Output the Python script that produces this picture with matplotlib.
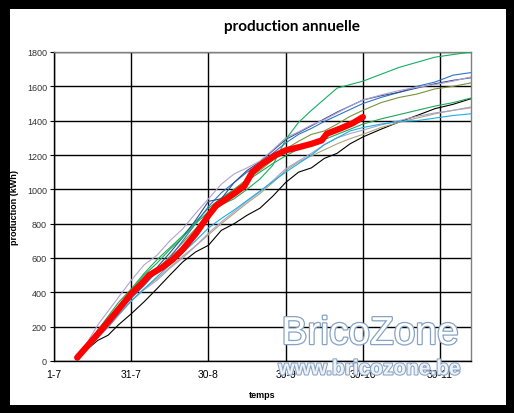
import matplotlib
matplotlib.use("Agg")
import matplotlib.pyplot as plt
import matplotlib.patheffects as pe
from matplotlib.patches import Rectangle

# ---------------- data ----------------
x_tick_pos = [0, 30, 60, 90, 120, 150]
x_tick_labels = ["1-7", "31-7", "30-8", "30-9", "30-10", "30-11"]
y_ticks = [0, 200, 400, 600, 800, 1000, 1200, 1400, 1600, 1800]

days = [9, 13, 17, 21, 25, 30, 35, 40, 45, 50, 55, 60, 65, 70, 75, 80, 85, 90,
        95, 100, 105, 110, 115, 120, 127, 134, 141, 148, 155, 162]

lavender = [0, 110, 210, 290, 370, 470, 560, 616, 700, 770, 860, 945, 1030, 1090,
            1125, 1165, 1230, 1300, 1335, 1375, 1405, 1445, 1485, 1520, 1550, 1575,
            1595, 1610, 1630, 1655]
dark_blue = [0, 85, 160, 230, 305, 390, 470, 545, 630, 720, 820, 930, 945, 1040,
             1110, 1160, 1225, 1290, 1330, 1370, 1410, 1450, 1485, 1520, 1545, 1565,
             1590, 1615, 1635, 1650]
blue = [0, 80, 150, 215, 285, 365, 440, 520, 600, 700, 800, 900, 980, 1040, 1100,
        1150, 1210, 1270, 1320, 1355, 1395, 1430, 1465, 1500, 1535, 1565, 1600, 1625,
        1665, 1680]
olive = [0, 80, 150, 220, 295, 375, 450, 530, 610, 690, 770, 860, 935, 1000, 1060,
         1110, 1170, 1235, 1280, 1320, 1340, 1380, 1425, 1460, 1505, 1535, 1555, 1585,
         1600, 1620]
green_top = [0, 90, 170, 245, 320, 410, 500, 570, 650, 720, 800, 870, 910, 945, 1000,
             1060, 1140, 1290, 1390, 1460, 1525, 1590, 1610, 1630, 1670, 1710, 1740,
             1770, 1785, 1800]
green_low = [0, 95, 180, 260, 340, 420, 510, 590, 660, 730, 810, 890, 950, 1000, 1050,
             1100, 1150, 1195, 1235, 1265, 1290, 1320, 1350, 1380, 1410, 1435, 1460,
             1485, 1505, 1532]
light_blue = [0, 75, 140, 200, 270, 350, 420, 490, 560, 630, 700, 775, 830, 880, 935,
              990, 1045, 1100, 1150, 1200, 1260, 1300, 1340, 1360, 1380, 1395, 1400,
              1415, 1430, 1440]
tan = [0, 70, 135, 195, 265, 350, 420, 480, 545, 610, 670, 735, 800, 860, 920, 975,
       1040, 1110, 1160, 1195, 1230, 1265, 1295, 1320, 1360, 1390, 1415, 1440, 1460, 1480]
lavender_grey = [0, 72, 138, 200, 268, 350, 415, 470, 540, 600, 670, 745, 810, 870, 930,
                 985, 1050, 1120, 1165, 1210, 1260, 1300, 1325, 1345, 1375, 1400, 1425,
                 1445, 1460, 1475]
black = [0, 70, 120, 150, 210, 275, 345, 421, 500, 577, 635, 674, 761, 800, 849, 890,
         960, 1040, 1100, 1125, 1180, 1210, 1265, 1305, 1350, 1392, 1430, 1470, 1495, 1528]

red_days = [9, 14, 20, 25, 30, 34, 37, 42, 46, 50, 55, 60, 63, 67, 70, 74, 77, 81, 86,
            90, 95, 100, 104, 106, 111, 116, 120]
red_vals = [20, 105, 210, 300, 392, 450, 500, 545, 590, 650, 740, 848, 905, 945, 975,
            1020, 1100, 1150, 1198, 1227, 1245, 1265, 1285, 1324, 1353, 1385, 1421]

series = [
    (black, "#000000"),
    (tan, "#B0A57A"),
    (lavender_grey, "#A9A3C9"),
    (light_blue, "#1AAFE6"),
    (green_low, "#1FA855"),
    (olive, "#77933C"),
    (blue, "#2E75C6"),
    (dark_blue, "#2F4F8F"),
    (lavender, "#B3A2CF"),
    (green_top, "#14B060"),
]

# ---------------- figure ----------------
W, H = 514, 414
fig = plt.figure(figsize=(W / 100, H / 100), dpi=100)
fig.patch.set_facecolor("black")
fig.add_artist(Rectangle((10 / W, 1 - 406 / H), 496 / W, 396 / H,
                         transform=fig.transFigure, facecolor="white",
                         edgecolor="none", zorder=0))

ax = fig.add_axes([54 / W, 1 - 362 / H, (471 - 54) / W, (362 - 53) / H])
ax.set_facecolor("white")

for vals, col in series:
    ax.plot(days, vals, color=col, lw=0.8, zorder=3)
ax.plot(red_days, red_vals, color="#FF0000", lw=4.5, solid_capstyle="round",
        solid_joinstyle="round", zorder=5)

ax.set_xlim(0, 162)
ax.set_ylim(0, 1800)
ax.set_xticks(x_tick_pos)
ax.set_xticklabels(x_tick_labels, fontsize=7.5, family="Liberation Sans")
ax.set_yticks(y_ticks)
ax.set_yticklabels([str(v) for v in y_ticks], fontsize=6.5, family="Liberation Sans",
                   color="#333333")
ax.tick_params(axis="x", length=0, pad=6)
ax.tick_params(axis="y", length=3, width=0.8, pad=2)
ax.grid(True, color="black", lw=1.0, zorder=1)
ax.set_axisbelow(True)
for side in ["top", "right"]:
    ax.spines[side].set_color("#808080")
    ax.spines[side].set_linewidth(1.0)
for side in ["left", "bottom"]:
    ax.spines[side].set_color("black")
    ax.spines[side].set_linewidth(1.0)

ax.set_ylabel("production (kWh)", fontsize=6.5, fontweight="bold",
              family="Liberation Sans", labelpad=6)
ax.set_xlabel("temps", fontsize=6.5, fontweight="bold", family="Liberation Sans",
              labelpad=8)

fig.text(292 / W, 1 - 27 / H, "production annuelle", ha="center", va="center",
         fontsize=11, fontweight="bold", family="Lato")

# watermark
t1 = fig.text(370 / W, 1 - 335 / H, "BricoZone", ha="center", va="center",
              fontsize=28, color="white", family="Liberation Sans", zorder=10)
t1.set_path_effects([pe.Stroke(linewidth=1.8, foreground="#86A3C4"), pe.Normal()])
t2 = fig.text(370 / W, 1 - 370 / H, "www.bricozone.be", ha="center", va="center",
              fontsize=15, color="#EEF2F7", family="Liberation Sans",
              fontweight="bold", zorder=10)
t2.set_path_effects([pe.Stroke(linewidth=1.5, foreground="#86A3C4"), pe.Normal()])

fig.savefig("out.png", dpi=100, facecolor=fig.get_facecolor())
